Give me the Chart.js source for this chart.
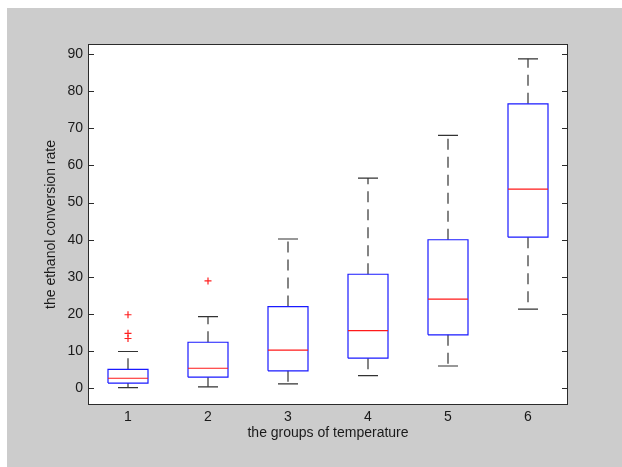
<!DOCTYPE html>
<html>
<head>
<meta charset="utf-8">
<script src="https://cdn.jsdelivr.net/npm/chart.js@4/dist/chart.umd.min.js"></script>
<style>
  html, body { margin: 0; padding: 0; background: #ffffff; }
  canvas { display: block; }
</style>
</head>
<body>
<canvas id="c" width="622" height="467"></canvas>
<script>
// ---- data ----
const categories = ['1', '2', '3', '4', '5', '6'];
const lowerWhisker = [0.2, 0.4, 1.2, 3.4, 6.0, 21.3];
const q1 = [1.4, 3.0, 4.7, 8.1, 14.4, 40.7];
const median = [2.7, 5.4, 10.3, 15.5, 24.0, 53.6];
const q3 = [5.1, 12.4, 22.0, 30.7, 40.0, 76.6];
const upperWhisker = [9.9, 19.3, 40.2, 56.6, 68.1, 88.7];
const outlierGroup = [1, 1, 1, 2];
const outlierValue = [19.8, 14.8, 13.4, 28.9];
const yTicks = [0, 10, 20, 30, 40, 50, 60, 70, 80, 90];
const yTitle = 'the ethanol conversion rate';
const xTitle = 'the groups of temperature';

// ---- build line segments (null breaks between segments) ----
const halfBox = 0.25, halfCap = 0.125;
const boxPts = [], medPts = [], whiskPts = [], capPts = [];
categories.forEach((c, i) => {
  const x = i + 1;
  boxPts.push({x: x - halfBox, y: q1[i]}, {x: x + halfBox, y: q1[i]},
              {x: x + halfBox, y: q3[i]}, {x: x - halfBox, y: q3[i]},
              {x: x - halfBox, y: q1[i]}, {x: x, y: null});
  medPts.push({x: x - halfBox, y: median[i]}, {x: x + halfBox, y: median[i]}, {x: x, y: null});
  whiskPts.push({x: x, y: q3[i]}, {x: x, y: upperWhisker[i]}, {x: x, y: null});
  whiskPts.push({x: x, y: q1[i]}, {x: x, y: lowerWhisker[i]}, {x: x, y: null});
  capPts.push({x: x - halfCap, y: upperWhisker[i]}, {x: x + halfCap, y: upperWhisker[i]}, {x: x, y: null});
  capPts.push({x: x - halfCap, y: lowerWhisker[i]}, {x: x + halfCap, y: lowerWhisker[i]}, {x: x, y: null});
});
const outPts = outlierGroup.map((g, i) => ({x: g, y: outlierValue[i]}));

const FONT = "'Liberation Sans', Arial, sans-serif";
const AXC = '#2b2b2b';

const framePlugin = {
  id: 'frame',
  beforeDraw(chart) {
    const {ctx, width, height, chartArea: a} = chart;
    ctx.save();
    ctx.fillStyle = '#ffffff';
    ctx.fillRect(0, 0, width, height);
    ctx.fillStyle = '#cccccc';
    ctx.fillRect(7, 8, width - 7, height - 8);
    ctx.fillStyle = '#ffffff';
    ctx.fillRect(a.left, a.top, a.right - a.left, a.bottom - a.top);
    ctx.restore();
  },
  afterDraw(chart) {
    const {ctx, chartArea: a, scales: {y}} = chart;
    ctx.save();
    ctx.strokeStyle = AXC;
    ctx.lineWidth = 1;
    ctx.strokeRect(Math.round(a.left) + 0.5, Math.round(a.top) + 0.5,
                   Math.round(a.right - a.left) - 1, Math.round(a.bottom - a.top) - 1);
    ctx.beginPath();
    yTicks.forEach(v => {
      const py = Math.round(y.getPixelForValue(v)) + 0.5;
      ctx.moveTo(a.left, py); ctx.lineTo(a.left + 6, py);
      ctx.moveTo(a.right, py); ctx.lineTo(a.right - 6, py);
    });
    ctx.stroke();
    ctx.restore();
  }
};

new Chart(document.getElementById('c'), {
  type: 'line',
  data: {
    datasets: [
      { data: whiskPts, borderColor: '#333333', borderWidth: 1.2, borderDash: [11, 7],
        pointRadius: 0, spanGaps: false, order: 4 },
      { data: capPts, borderColor: '#333333', borderWidth: 1.2,
        pointRadius: 0, spanGaps: false, order: 3 },
      { data: boxPts, borderColor: '#1a1aff', borderWidth: 1.2,
        pointRadius: 0, spanGaps: false, order: 2 },
      { data: medPts, borderColor: '#ff1a1a', borderWidth: 1.2,
        pointRadius: 0, spanGaps: false, order: 1 },
      { data: outPts, showLine: false, pointStyle: 'cross', pointRadius: 3.5,
        pointBorderColor: '#ff2020', pointBorderWidth: 1.2, order: 0 }
    ]
  },
  options: {
    responsive: false,
    animation: false,
    devicePixelRatio: 1,
    layout: { padding: { left: 0, top: 44, right: 54, bottom: 0 } },
    plugins: { legend: { display: false }, tooltip: { enabled: false } },
    scales: {
      x: {
        type: 'linear', min: 0.5, max: 6.5,
        grid: { display: false, drawTicks: false },
        border: { display: false },
        afterBuildTicks: s => { s.ticks = categories.map((c, i) => ({value: i + 1})); },
        afterFit: s => { s.height = 62; },
        ticks: {
          autoSkip: false, maxRotation: 0, padding: 4,
          color: '#1a1a1a', font: { family: FONT, size: 14 },
          callback: (v) => categories[Math.round(v) - 1]
        },
        title: { display: true, text: xTitle, color: '#1a1a1a',
                 font: { family: FONT, size: 14 }, padding: { top: 0, bottom: 25 } }
      },
      y: {
        type: 'linear', min: -4.5, max: 92.7,
        grid: { display: false, drawTicks: false },
        border: { display: false },
        afterBuildTicks: s => { s.ticks = yTicks.map(v => ({value: v})); },
        afterFit: s => { s.width = 88; },
        ticks: { padding: 5, color: '#1a1a1a', font: { family: FONT, size: 14 } },
        title: { display: true, text: yTitle, color: '#1a1a1a',
                 font: { family: FONT, size: 14 }, padding: { top: 43, bottom: 0 } }
      }
    }
  },
  plugins: [framePlugin]
});
</script>
</body>
</html>
